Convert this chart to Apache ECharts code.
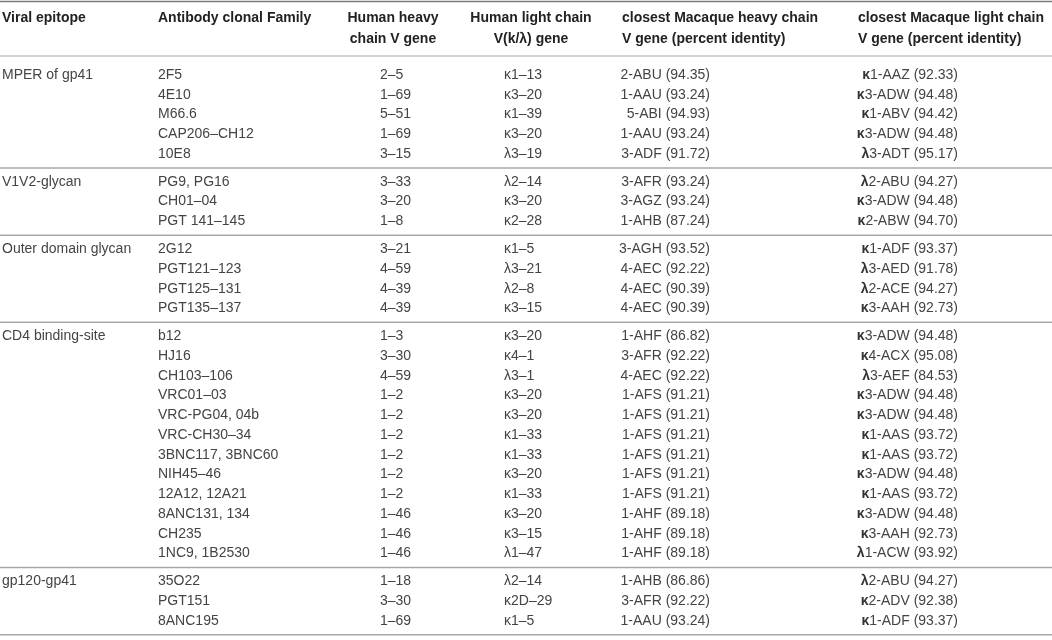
<!DOCTYPE html>
<html lang="en">
<head>
<meta charset="UTF-8" />
<script src="https://cdn.jsdelivr.net/npm/echarts@6/dist/echarts.min.js"></script>
<title>Antibody V genes</title>
<style>html,body{margin:0;padding:0;background:#fff}</style>
</head>
<body>
<div id="main" style="width:1052px;height:640px"></div>
<script>
// table content
const headers = [
  'Viral epitope',
  'Antibody clonal Family',
  'Human heavy\nchain V gene',
  'Human light chain\nV(k/\u03bb) gene',
  'closest Macaque heavy chain\nV gene (percent identity)',
  'closest Macaque light chain\nV gene (percent identity)'
];
const epitopes = ['MPER of gp41', 'V1V2-glycan', 'Outer domain glycan', 'CD4 binding-site', 'gp120-gp41'];
const groupSizes = [5, 3, 4, 12, 3];
const antibodies = [
  '2F5', '4E10', 'M66.6', 'CAP206\u2013CH12', '10E8',
  'PG9, PG16', 'CH01\u201304', 'PGT 141\u2013145',
  '2G12', 'PGT121\u2013123', 'PGT125\u2013131', 'PGT135\u2013137',
  'b12', 'HJ16', 'CH103\u2013106', 'VRC01\u201303', 'VRC-PG04, 04b', 'VRC-CH30\u201334',
  '3BNC117, 3BNC60', 'NIH45\u201346', '12A12, 12A21', '8ANC131, 134', 'CH235', '1NC9, 1B2530',
  '35O22', 'PGT151', '8ANC195'
];
const heavyGenes = [
  '2\u20135', '1\u201369', '5\u201351', '1\u201369', '3\u201315',
  '3\u201333', '3\u201320', '1\u20138',
  '3\u201321', '4\u201359', '4\u201339', '4\u201339',
  '1\u20133', '3\u201330', '4\u201359', '1\u20132', '1\u20132', '1\u20132',
  '1\u20132', '1\u20132', '1\u20132', '1\u201346', '1\u201346', '1\u201346',
  '1\u201318', '3\u201330', '1\u201369'
];
const lightGenes = [
  '\u03ba1\u201313', '\u03ba3\u201320', '\u03ba1\u201339', '\u03ba3\u201320', '\u03bb3\u201319',
  '\u03bb2\u201314', '\u03ba3\u201320', '\u03ba2\u201328',
  '\u03ba1\u20135', '\u03bb3\u201321', '\u03bb2\u20138', '\u03ba3\u201315',
  '\u03ba3\u201320', '\u03ba4\u20131', '\u03bb3\u20131', '\u03ba3\u201320', '\u03ba3\u201320', '\u03ba1\u201333',
  '\u03ba1\u201333', '\u03ba3\u201320', '\u03ba1\u201333', '\u03ba3\u201320', '\u03ba3\u201315', '\u03bb1\u201347',
  '\u03bb2\u201314', '\u03ba2D\u201329', '\u03ba1\u20135'
];
const macaqueHeavy = [
  '2-ABU (94.35)', '1-AAU (93.24)', '5-ABI (94.93)', '1-AAU (93.24)', '3-ADF (91.72)',
  '3-AFR (93.24)', '3-AGZ (93.24)', '1-AHB (87.24)',
  '3-AGH (93.52)', '4-AEC (92.22)', '4-AEC (90.39)', '4-AEC (90.39)',
  '1-AHF (86.82)', '3-AFR (92.22)', '4-AEC (92.22)', '1-AFS (91.21)', '1-AFS (91.21)', '1-AFS (91.21)',
  '1-AFS (91.21)', '1-AFS (91.21)', '1-AFS (91.21)', '1-AHF (89.18)', '1-AHF (89.18)', '1-AHF (89.18)',
  '1-AHB (86.86)', '3-AFR (92.22)', '1-AAU (93.24)'
];
const macaqueLight = [
  '\u03ba1-AAZ (92.33)', '\u03ba3-ADW (94.48)', '\u03ba1-ABV (94.42)', '\u03ba3-ADW (94.48)', '\u03bb3-ADT (95.17)',
  '\u03bb2-ABU (94.27)', '\u03ba3-ADW (94.48)', '\u03ba2-ABW (94.70)',
  '\u03ba1-ADF (93.37)', '\u03bb3-AED (91.78)', '\u03bb2-ACE (94.27)', '\u03ba3-AAH (92.73)',
  '\u03ba3-ADW (94.48)', '\u03ba4-ACX (95.08)', '\u03bb3-AEF (84.53)', '\u03ba3-ADW (94.48)', '\u03ba3-ADW (94.48)', '\u03ba1-AAS (93.72)',
  '\u03ba1-AAS (93.72)', '\u03ba3-ADW (94.48)', '\u03ba1-AAS (93.72)', '\u03ba3-ADW (94.48)', '\u03ba3-AAH (92.73)', '\u03bb1-ACW (93.92)',
  '\u03bb2-ABU (94.27)', '\u03ba2-ADV (92.38)', '\u03ba1-ADF (93.37)'
];

window.onload = function () {
  const W = 1052, H = 640;
  // layout
  const firstRow = 75, rowStep = 19.75, groupGap = 8.1, ruleOffset = 13.9;
  const headCols = [
    { x: 2, align: 'left' }, { x: 158, align: 'left' }, { x: 393, align: 'center' },
    { x: 531, align: 'center' }, { x: 622, align: 'left' }, { x: 858, align: 'left' }
  ];
  const bodyCols = [
    { x: 2, align: 'left' }, { x: 158, align: 'left' }, { x: 380, align: 'left' },
    { x: 504, align: 'left' }, { x: 710, align: 'right' }, { x: 958, align: 'right' }
  ];

  const cells = [];
  const rules = [{ y: 1.5, color: '#7a7a7a', width: 1.5 }, { y: 56, color: '#c4c4c4', width: 1.5 }];
  headers.forEach((h, c) => {
    cells.push({ value: [headCols[c].x, 7.5], text: h, align: headCols[c].align, head: true });
  });
  let gi = 0;
  groupSizes.forEach((n, g) => {
    let y = 0;
    for (let i = 0; i < n; i++, gi++) {
      y = firstRow + gi * rowStep + g * groupGap;
      const row = [i === 0 ? epitopes[g] : '', antibodies[gi], heavyGenes[gi], lightGenes[gi],
        macaqueHeavy[gi], '{g|' + macaqueLight[gi][0] + '}' + macaqueLight[gi].slice(1)];
      row.forEach((t, c) => {
        if (t) cells.push({ value: [bodyCols[c].x, y], text: t, align: bodyCols[c].align });
      });
    }
    rules.push({ y: y + ruleOffset, color: '#a8a8a8', width: 1.5 });
  });

  var myChart = echarts.init(document.getElementById('main'));
  myChart.setOption({
    animation: false,
    grid: { left: 0, right: 0, top: 0, bottom: 0 },
    xAxis: { type: 'value', min: 0, max: W, show: false },
    yAxis: { type: 'value', min: 0, max: H, inverse: true, show: false },
    series: [
      {
        type: 'custom',
        clip: false,
        data: rules.map((r) => [0, r.y]),
        renderItem: function (params, api) {
          const r = rules[params.dataIndex];
          const p1 = api.coord([0, api.value(1)]);
          const p2 = api.coord([W, api.value(1)]);
          return {
            type: 'line',
            shape: { x1: p1[0], y1: p1[1], x2: p2[0], y2: p2[1] },
            style: { stroke: r.color, lineWidth: r.width }
          };
        }
      },
      {
        type: 'custom',
        clip: false,
        data: cells.map((c) => c.value),
        renderItem: function (params, api) {
          const c = cells[params.dataIndex];
          const p = api.coord([api.value(0), api.value(1)]);
          return {
            type: 'text',
            x: p[0],
            y: p[1],
            style: {
              text: c.text,
              align: c.align,
              verticalAlign: c.head ? 'top' : 'middle',
              fontFamily: 'Liberation Sans, Arial, sans-serif',
              fontSize: 14,
              fontWeight: c.head ? 'bold' : 'normal',
              lineHeight: c.head ? 21 : 16,
              fill: c.head ? '#222' : '#444',
              rich: { g: { fontWeight: 'bold', fontSize: 14, fill: '#333', fontFamily: 'Liberation Sans, Arial, sans-serif' } }
            }
          };
        }
      }
    ]
  });
};
</script>
</body>
</html>
